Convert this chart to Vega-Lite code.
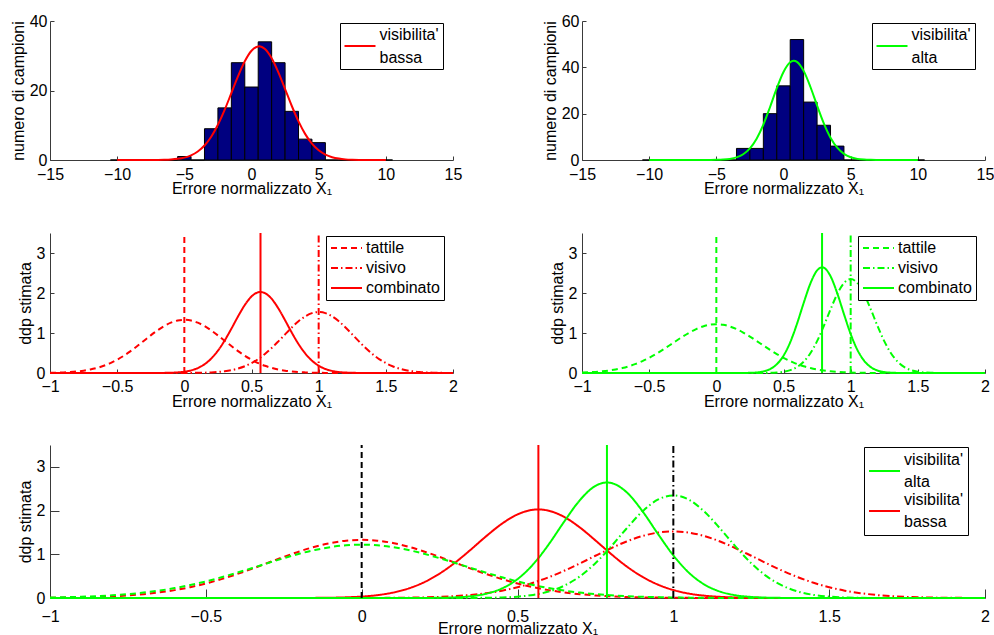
{
"$schema": "https://vega.github.io/schema/vega-lite/v6.json",
"background": "white",
"padding": {"left": 10, "top": 13, "right": 5, "bottom": 5},
"bounds": "flush",
"spacing": 212,
"config": {
  "font": "Liberation Sans",
  "view": {"stroke": null},
  "axis": {"grid": false, "domainColor": "#3a3a3a", "tickColor": "#3a3a3a", "labelFont": "Liberation Sans", "titleFont": "Liberation Sans", "labelFontSize": 16, "titleFontSize": 16, "titleFontWeight": "normal", "labelColor": "#000", "titleColor": "#000", "labelFlush": false, "labelOverlap": false, "tickSize": -4, "labelPadding": 9, "titlePadding": 3},
  "axisX": {"titlePadding": -2, "labelPadding": 10},
  "legend": {"labelFont": "Liberation Sans", "labelFontSize": 16, "labelColor": "#000", "strokeColor": "#000", "fillColor": "#fff", "padding": 4, "symbolType": "stroke", "symbolStrokeWidth": 2, "symbolSize": 961, "labelOffset": 3, "orient": "none"}
},
"resolve": {"scale": {"color": "independent", "strokeDash": "independent"}},
"datasets": {
  "hist_lo": [
    {"x0": -10.5, "x1": -9.5, "n": 0}, {"x0": -9.5, "x1": -8.5, "n": 0}, {"x0": -8.5, "x1": -7.5, "n": 0}, {"x0": -7.5, "x1": -6.5, "n": 0}, {"x0": -6.5, "x1": -5.5, "n": 0},
    {"x0": -5.5, "x1": -4.5, "n": 1}, {"x0": -4.5, "x1": -3.5, "n": 0}, {"x0": -3.5, "x1": -2.5, "n": 9}, {"x0": -2.5, "x1": -1.5, "n": 15}, {"x0": -1.5, "x1": -0.5, "n": 28},
    {"x0": -0.5, "x1": 0.5, "n": 21}, {"x0": 0.5, "x1": 1.5, "n": 34}, {"x0": 1.5, "x1": 2.5, "n": 28}, {"x0": 2.5, "x1": 3.5, "n": 14}, {"x0": 3.5, "x1": 4.5, "n": 6},
    {"x0": 4.5, "x1": 5.5, "n": 5}, {"x0": 5.5, "x1": 6.5, "n": 0}, {"x0": 6.5, "x1": 7.5, "n": 0}, {"x0": 7.5, "x1": 8.5, "n": 0}, {"x0": 8.5, "x1": 9.5, "n": 0}, {"x0": 9.5, "x1": 10.5, "n": 0}
  ],
  "hist_hi": [
    {"x0": -10.5, "x1": -9.5, "n": 0}, {"x0": -9.5, "x1": -8.5, "n": 0}, {"x0": -8.5, "x1": -7.5, "n": 0}, {"x0": -7.5, "x1": -6.5, "n": 0}, {"x0": -6.5, "x1": -5.5, "n": 0},
    {"x0": -5.5, "x1": -4.5, "n": 0}, {"x0": -4.5, "x1": -3.5, "n": 0}, {"x0": -3.5, "x1": -2.5, "n": 5}, {"x0": -2.5, "x1": -1.5, "n": 5}, {"x0": -1.5, "x1": -0.5, "n": 20},
    {"x0": -0.5, "x1": 0.5, "n": 32}, {"x0": 0.5, "x1": 1.5, "n": 52}, {"x0": 1.5, "x1": 2.5, "n": 25}, {"x0": 2.5, "x1": 3.5, "n": 15}, {"x0": 3.5, "x1": 4.5, "n": 6},
    {"x0": 4.5, "x1": 5.5, "n": 0}, {"x0": 5.5, "x1": 6.5, "n": 0}, {"x0": 6.5, "x1": 7.5, "n": 0}, {"x0": 7.5, "x1": 8.5, "n": 0}, {"x0": 8.5, "x1": 9.5, "n": 0}, {"x0": 9.5, "x1": 10.5, "n": 0}
  ],
  "hcurve": [
    {"x": -10, "lo": 0, "hi": 0}, {"x": -9.5, "lo": 0, "hi": 0}, {"x": -9, "lo": 0, "hi": 0}, {"x": -8.5, "lo": 0.001, "hi": 0},
    {"x": -8, "lo": 0.003, "hi": 0}, {"x": -7.5, "lo": 0.01, "hi": 0}, {"x": -7, "lo": 0.026, "hi": 0}, {"x": -6.5, "lo": 0.064, "hi": 0.001},
    {"x": -6, "lo": 0.151, "hi": 0.004}, {"x": -5.5, "lo": 0.332, "hi": 0.017}, {"x": -5, "lo": 0.686, "hi": 0.055}, {"x": -4.5, "lo": 1.333, "hi": 0.166},
    {"x": -4, "lo": 2.43, "hi": 0.452}, {"x": -3.5, "lo": 4.17, "hi": 1.116}, {"x": -3, "lo": 6.71, "hi": 2.49}, {"x": -2.5, "lo": 10.14, "hi": 5.04},
    {"x": -2, "lo": 14.41, "hi": 9.22}, {"x": -1.5, "lo": 19.24, "hi": 15.27}, {"x": -1, "lo": 24.12, "hi": 22.87}, {"x": -0.5, "lo": 28.41, "hi": 31.0},
    {"x": 0, "lo": 31.45, "hi": 38.01}, {"x": 0.5, "lo": 32.69, "hi": 42.18}, {"x": 0.56, "lo": 32.7, "hi": 42.42}, {"x": 0.77, "lo": 32.52, "hi": 42.8},
    {"x": 1, "lo": 31.92, "hi": 42.35}, {"x": 1.5, "lo": 29.28, "hi": 38.47}, {"x": 2, "lo": 25.23, "hi": 31.62}, {"x": 2.5, "lo": 20.43, "hi": 23.52},
    {"x": 3, "lo": 15.54, "hi": 15.83}, {"x": 3.5, "lo": 11.1, "hi": 9.64}, {"x": 4, "lo": 7.45, "hi": 5.31}, {"x": 4.5, "lo": 4.7, "hi": 2.65},
    {"x": 5, "lo": 2.78, "hi": 1.19}, {"x": 5.5, "lo": 1.55, "hi": 0.49}, {"x": 6, "lo": 0.81, "hi": 0.18}, {"x": 6.5, "lo": 0.4, "hi": 0.06},
    {"x": 7, "lo": 0.18, "hi": 0.02}, {"x": 7.5, "lo": 0.08, "hi": 0.005}, {"x": 8, "lo": 0.03, "hi": 0.001}, {"x": 8.5, "lo": 0.01, "hi": 0},
    {"x": 9, "lo": 0, "hi": 0}, {"x": 9.5, "lo": 0, "hi": 0}, {"x": 10, "lo": 0, "hi": 0}
  ],
  "dens_lo": [
    {"x": -1, "tattile": 0.0051, "visivo": 0, "combinato": 0}, {"x": -0.95, "tattile": 0.0088, "visivo": 0, "combinato": 0},
    {"x": -0.9, "tattile": 0.0148, "visivo": 0, "combinato": 0}, {"x": -0.85, "tattile": 0.024, "visivo": 0, "combinato": 0},
    {"x": -0.8, "tattile": 0.038, "visivo": 0, "combinato": 0}, {"x": -0.75, "tattile": 0.0584, "visivo": 0, "combinato": 0},
    {"x": -0.7, "tattile": 0.0874, "visivo": 0, "combinato": 0}, {"x": -0.65, "tattile": 0.127, "visivo": 0, "combinato": 0},
    {"x": -0.6, "tattile": 0.18, "visivo": 0, "combinato": 0}, {"x": -0.55, "tattile": 0.248, "visivo": 0, "combinato": 0},
    {"x": -0.5, "tattile": 0.332, "visivo": 0, "combinato": 0}, {"x": -0.45, "tattile": 0.432, "visivo": 0, "combinato": 0},
    {"x": -0.4, "tattile": 0.547, "visivo": 0, "combinato": 0}, {"x": -0.35, "tattile": 0.673, "visivo": 0, "combinato": 0},
    {"x": -0.3, "tattile": 0.807, "visivo": 0, "combinato": 0.0001}, {"x": -0.25, "tattile": 0.94, "visivo": 0, "combinato": 0.0004},
    {"x": -0.2, "tattile": 1.065, "visivo": 0, "combinato": 0.0011}, {"x": -0.15, "tattile": 1.174, "visivo": 0.0001, "combinato": 0.0028},
    {"x": -0.1, "tattile": 1.258, "visivo": 0.0002, "combinato": 0.0067}, {"x": -0.05, "tattile": 1.312, "visivo": 0.0005, "combinato": 0.0153},
    {"x": 0, "tattile": 1.33, "visivo": 0.001, "combinato": 0.0327}, {"x": 0.05, "tattile": 1.312, "visivo": 0.0021, "combinato": 0.0655},
    {"x": 0.1, "tattile": 1.258, "visivo": 0.0042, "combinato": 0.123}, {"x": 0.15, "tattile": 1.174, "visivo": 0.0079, "combinato": 0.217},
    {"x": 0.2, "tattile": 1.065, "visivo": 0.0144, "combinato": 0.359}, {"x": 0.25, "tattile": 0.94, "visivo": 0.0253, "combinato": 0.558},
    {"x": 0.3, "tattile": 0.807, "visivo": 0.0429, "combinato": 0.811}, {"x": 0.35, "tattile": 0.673, "visivo": 0.0702, "combinato": 1.106},
    {"x": 0.4, "tattile": 0.547, "visivo": 0.111, "combinato": 1.416}, {"x": 0.45, "tattile": 0.432, "visivo": 0.168, "combinato": 1.699},
    {"x": 0.5, "tattile": 0.332, "visivo": 0.247, "combinato": 1.912}, {"x": 0.55, "tattile": 0.248, "visivo": 0.348, "combinato": 2.018},
    {"x": 0.567, "tattile": 0.223, "visivo": 0.389, "combinato": 2.025}, {"x": 0.6, "tattile": 0.18, "visivo": 0.475, "combinato": 1.997},
    {"x": 0.65, "tattile": 0.127, "visivo": 0.624, "combinato": 1.854}, {"x": 0.7, "tattile": 0.0874, "visivo": 0.791, "combinato": 1.614},
    {"x": 0.75, "tattile": 0.0584, "visivo": 0.966, "combinato": 1.318}, {"x": 0.787, "tattile": 0.0426, "visivo": 1.094, "combinato": 1.088},
    {"x": 0.8, "tattile": 0.038, "visivo": 1.138, "combinato": 1.009}, {"x": 0.85, "tattile": 0.024, "visivo": 1.293, "combinato": 0.724},
    {"x": 0.9, "tattile": 0.0148, "visivo": 1.416, "combinato": 0.488}, {"x": 0.95, "tattile": 0.0088, "visivo": 1.496, "combinato": 0.308},
    {"x": 1, "tattile": 0.0051, "visivo": 1.523, "combinato": 0.182}, {"x": 1.05, "tattile": 0.0029, "visivo": 1.496, "combinato": 0.101},
    {"x": 1.1, "tattile": 0.0016, "visivo": 1.416, "combinato": 0.0528}, {"x": 1.15, "tattile": 0.0009, "visivo": 1.293, "combinato": 0.0258},
    {"x": 1.2, "tattile": 0.0004, "visivo": 1.138, "combinato": 0.0118}, {"x": 1.25, "tattile": 0.0002, "visivo": 0.966, "combinato": 0.0051},
    {"x": 1.3, "tattile": 0.0001, "visivo": 0.791, "combinato": 0.002}, {"x": 1.35, "tattile": 0, "visivo": 0.624, "combinato": 0.0008},
    {"x": 1.4, "tattile": 0, "visivo": 0.475, "combinato": 0.0003}, {"x": 1.45, "tattile": 0, "visivo": 0.348, "combinato": 0.0001},
    {"x": 1.5, "tattile": 0, "visivo": 0.247, "combinato": 0}, {"x": 1.55, "tattile": 0, "visivo": 0.168, "combinato": 0},
    {"x": 1.6, "tattile": 0, "visivo": 0.111, "combinato": 0}, {"x": 1.65, "tattile": 0, "visivo": 0.0702, "combinato": 0},
    {"x": 1.7, "tattile": 0, "visivo": 0.0429, "combinato": 0}, {"x": 1.75, "tattile": 0, "visivo": 0.0253, "combinato": 0},
    {"x": 1.8, "tattile": 0, "visivo": 0.0144, "combinato": 0}, {"x": 1.85, "tattile": 0, "visivo": 0.0079, "combinato": 0},
    {"x": 1.9, "tattile": 0, "visivo": 0.0042, "combinato": 0}, {"x": 1.95, "tattile": 0, "visivo": 0.0021, "combinato": 0},
    {"x": 2, "tattile": 0, "visivo": 0.001, "combinato": 0}
  ],
  "dens_hi": [
    {"x": -1, "tattile": 0.0114, "visivo": 0, "combinato": 0}, {"x": -0.95, "tattile": 0.018, "visivo": 0, "combinato": 0},
    {"x": -0.9, "tattile": 0.0277, "visivo": 0, "combinato": 0}, {"x": -0.85, "tattile": 0.0417, "visivo": 0, "combinato": 0},
    {"x": -0.8, "tattile": 0.0613, "visivo": 0, "combinato": 0}, {"x": -0.75, "tattile": 0.0881, "visivo": 0, "combinato": 0},
    {"x": -0.7, "tattile": 0.124, "visivo": 0, "combinato": 0}, {"x": -0.65, "tattile": 0.169, "visivo": 0, "combinato": 0},
    {"x": -0.6, "tattile": 0.227, "visivo": 0, "combinato": 0}, {"x": -0.55, "tattile": 0.297, "visivo": 0, "combinato": 0},
    {"x": -0.5, "tattile": 0.379, "visivo": 0, "combinato": 0}, {"x": -0.45, "tattile": 0.474, "visivo": 0, "combinato": 0},
    {"x": -0.4, "tattile": 0.578, "visivo": 0, "combinato": 0}, {"x": -0.35, "tattile": 0.688, "visivo": 0, "combinato": 0},
    {"x": -0.3, "tattile": 0.801, "visivo": 0, "combinato": 0}, {"x": -0.25, "tattile": 0.911, "visivo": 0, "combinato": 0},
    {"x": -0.2, "tattile": 1.012, "visivo": 0, "combinato": 0}, {"x": -0.15, "tattile": 1.098, "visivo": 0, "combinato": 0},
    {"x": -0.1, "tattile": 1.164, "visivo": 0, "combinato": 0}, {"x": -0.05, "tattile": 1.206, "visivo": 0, "combinato": 0},
    {"x": 0, "tattile": 1.22, "visivo": 0, "combinato": 0}, {"x": 0.05, "tattile": 1.206, "visivo": 0, "combinato": 0},
    {"x": 0.1, "tattile": 1.164, "visivo": 0, "combinato": 0.0001}, {"x": 0.15, "tattile": 1.098, "visivo": 0, "combinato": 0.0004},
    {"x": 0.2, "tattile": 1.012, "visivo": 0, "combinato": 0.0014}, {"x": 0.25, "tattile": 0.911, "visivo": 0.0001, "combinato": 0.0047},
    {"x": 0.3, "tattile": 0.801, "visivo": 0.0005, "combinato": 0.0144}, {"x": 0.35, "tattile": 0.688, "visivo": 0.0016, "combinato": 0.0397},
    {"x": 0.4, "tattile": 0.578, "visivo": 0.0046, "combinato": 0.0983}, {"x": 0.45, "tattile": 0.474, "visivo": 0.0125, "combinato": 0.218},
    {"x": 0.5, "tattile": 0.379, "visivo": 0.0311, "combinato": 0.432}, {"x": 0.55, "tattile": 0.297, "visivo": 0.0707, "combinato": 0.769},
    {"x": 0.567, "tattile": 0.272, "visivo": 0.0916, "combinato": 0.912}, {"x": 0.6, "tattile": 0.227, "visivo": 0.147, "combinato": 1.225},
    {"x": 0.65, "tattile": 0.169, "visivo": 0.282, "combinato": 1.749}, {"x": 0.7, "tattile": 0.124, "visivo": 0.494, "combinato": 2.237},
    {"x": 0.75, "tattile": 0.0881, "visivo": 0.796, "combinato": 2.564}, {"x": 0.787, "tattile": 0.0675, "visivo": 1.07, "combinato": 2.642},
    {"x": 0.8, "tattile": 0.0613, "visivo": 1.175, "combinato": 2.632}, {"x": 0.85, "tattile": 0.0417, "visivo": 1.59, "combinato": 2.421},
    {"x": 0.9, "tattile": 0.0277, "visivo": 1.974, "combinato": 1.995}, {"x": 0.95, "tattile": 0.018, "visivo": 2.248, "combinato": 1.473},
    {"x": 1, "tattile": 0.0114, "visivo": 2.347, "combinato": 0.975}, {"x": 1.05, "tattile": 0.0071, "visivo": 2.248, "combinato": 0.578},
    {"x": 1.1, "tattile": 0.0043, "visivo": 1.974, "combinato": 0.307}, {"x": 1.15, "tattile": 0.0025, "visivo": 1.59, "combinato": 0.146},
    {"x": 1.2, "tattile": 0.0015, "visivo": 1.175, "combinato": 0.0622}, {"x": 1.25, "tattile": 0.0008, "visivo": 0.796, "combinato": 0.0238},
    {"x": 1.3, "tattile": 0.0005, "visivo": 0.494, "combinato": 0.0081}, {"x": 1.35, "tattile": 0.0002, "visivo": 0.282, "combinato": 0.0025},
    {"x": 1.4, "tattile": 0.0001, "visivo": 0.147, "combinato": 0.0007}, {"x": 1.45, "tattile": 0, "visivo": 0.0707, "combinato": 0.0002},
    {"x": 1.5, "tattile": 0, "visivo": 0.0311, "combinato": 0}, {"x": 1.55, "tattile": 0, "visivo": 0.0125, "combinato": 0},
    {"x": 1.6, "tattile": 0, "visivo": 0.0046, "combinato": 0}, {"x": 1.65, "tattile": 0, "visivo": 0.0016, "combinato": 0},
    {"x": 1.7, "tattile": 0, "visivo": 0.0005, "combinato": 0}, {"x": 1.75, "tattile": 0, "visivo": 0.0001, "combinato": 0},
    {"x": 1.8, "tattile": 0, "visivo": 0, "combinato": 0}, {"x": 1.85, "tattile": 0, "visivo": 0, "combinato": 0},
    {"x": 1.9, "tattile": 0, "visivo": 0, "combinato": 0}, {"x": 1.95, "tattile": 0, "visivo": 0, "combinato": 0},
    {"x": 2, "tattile": 0, "visivo": 0, "combinato": 0}
  ],
  "vlines": [
    {"x": 0, "kind": "tattile", "vis": "visibilita'|\u00a0bassa"},
    {"x": 0.567, "kind": "combinato", "vis": "visibilita'|\u00a0bassa"},
    {"x": 1, "kind": "visivo", "vis": "visibilita'|\u00a0bassa"},
    {"x": 0, "kind": "tattile", "vis": "visibilita'|\u00a0alta"},
    {"x": 0.787, "kind": "combinato", "vis": "visibilita'|\u00a0alta"},
    {"x": 1, "kind": "visivo", "vis": "visibilita'|\u00a0alta"}
  ]
},
"vconcat": [
  {
    "bounds": "flush",
    "spacing": 129,
    "resolve": {"scale": {"color": "independent", "strokeDash": "independent"}},
    "hconcat": [
      {
        "width": 403, "height": 139,
        "layer": [
          {
            "data": {"name": "hist_lo"},
            "mark": {"type": "rect", "fill": "#000080", "stroke": "#000000", "strokeWidth": 1},
            "encoding": {
              "x": {"field": "x0", "type": "quantitative", "scale": {"domain": [-15, 15], "nice": false}, "axis": {"title": "Errore normalizzato X₁", "values": [-15, -10, -5, 0, 5, 10, 15]}},
              "x2": {"field": "x1"},
              "y": {"field": "n", "type": "quantitative", "scale": {"domain": [0, 40], "nice": false}, "axis": {"title": "numero di campioni", "values": [0, 10, 20, 30, 40], "labelPadding": 7}},
              "y2": {"datum": 0}
            }
          },
          {
            "data": {"name": "hcurve"},
            "mark": {"type": "line", "strokeWidth": 2, "interpolate": "monotone"},
            "encoding": {
              "x": {"field": "x", "type": "quantitative", "axis": {"title": "Errore normalizzato X₁"}},
              "y": {"field": "lo", "type": "quantitative", "axis": {"title": "numero di campioni"}},
              "color": {"datum": "visibilita'|\u00a0bassa", "type": "nominal", "scale": {"range": ["#ff0000"]}, "legend": {"title": null, "legendX": 290, "legendY": 2, "padding": 3.5, "clipHeight": 39, "labelExpr": "split(datum.label, '|')", "encode": {"labels": {"update": {"dy": {"value": -11.5}, "lineHeight": {"value": 23}}}}}}
            }
          }
        ]
      },
      {
        "width": 403, "height": 139,
        "layer": [
          {
            "data": {"name": "hist_hi"},
            "mark": {"type": "rect", "fill": "#000080", "stroke": "#000000", "strokeWidth": 1},
            "encoding": {
              "x": {"field": "x0", "type": "quantitative", "scale": {"domain": [-15, 15], "nice": false}, "axis": {"title": "Errore normalizzato X₁", "values": [-15, -10, -5, 0, 5, 10, 15]}},
              "x2": {"field": "x1"},
              "y": {"field": "n", "type": "quantitative", "scale": {"domain": [0, 60], "nice": false}, "axis": {"title": "numero di campioni", "values": [0, 20, 40, 60], "labelPadding": 7}},
              "y2": {"datum": 0}
            }
          },
          {
            "data": {"name": "hcurve"},
            "mark": {"type": "line", "strokeWidth": 2, "interpolate": "monotone"},
            "encoding": {
              "x": {"field": "x", "type": "quantitative", "axis": {"title": "Errore normalizzato X₁"}},
              "y": {"field": "hi", "type": "quantitative", "axis": {"title": "numero di campioni"}},
              "color": {"datum": "visibilita'|\u00a0alta", "type": "nominal", "scale": {"range": ["#00ff00"]}, "legend": {"title": null, "legendX": 290, "legendY": 2, "padding": 3.5, "clipHeight": 39, "labelExpr": "split(datum.label, '|')", "encode": {"labels": {"update": {"dy": {"value": -11.5}, "lineHeight": {"value": 23}}}}}}
            }
          }
        ]
      }
    ]
  },
  {
    "bounds": "flush",
    "spacing": 129,
    "resolve": {"scale": {"color": "independent", "strokeDash": "independent"}},
    "hconcat": [
      {
        "width": 403, "height": 140,
        "layer": [
          {
            "data": {"name": "dens_lo"},
            "transform": [{"fold": ["tattile", "visivo", "combinato"], "as": ["kind", "val"]}],
            "mark": {"type": "line", "strokeWidth": 2, "interpolate": "monotone", "color": "#ff0000"},
            "encoding": {
              "x": {"field": "x", "type": "quantitative", "scale": {"domain": [-1, 2], "nice": false}, "axis": {"title": "Errore normalizzato X₁", "values": [-1, -0.5, 0, 0.5, 1, 1.5, 2], "format": "~f", "titlePadding": -1, "labelPadding": 9}},
              "y": {"field": "val", "type": "quantitative", "scale": {"domain": [0, 3.5], "nice": false}, "axis": {"title": "ddp stimata", "values": [0, 1, 2, 3]}},
              "strokeDash": {"field": "kind", "type": "nominal", "scale": {"domain": ["tattile", "visivo", "combinato"], "range": [[6, 4], [7, 3, 1.5, 3], [1, 0]]}, "legend": {"title": null, "legendX": 276, "legendY": 3, "symbolStrokeColor": "#ff0000", "clipHeight": 16, "rowPadding": 4}}
            }
          },
          {
            "data": {"name": "vlines"},
            "transform": [{"filter": {"field": "vis", "equal": "visibilita'|\u00a0bassa"}}],
            "mark": {"type": "rule", "strokeWidth": 2, "color": "#ff0000"},
            "encoding": {
              "x": {"field": "x", "type": "quantitative"},
              "y": {"datum": 0},
              "y2": {"datum": 3.5},
              "strokeDash": {"field": "kind", "type": "nominal"}
            }
          }
        ]
      },
      {
        "width": 403, "height": 140,
        "layer": [
          {
            "data": {"name": "dens_hi"},
            "transform": [{"fold": ["tattile", "visivo", "combinato"], "as": ["kind", "val"]}],
            "mark": {"type": "line", "strokeWidth": 2, "interpolate": "monotone", "color": "#00ff00"},
            "encoding": {
              "x": {"field": "x", "type": "quantitative", "scale": {"domain": [-1, 2], "nice": false}, "axis": {"title": "Errore normalizzato X₁", "values": [-1, -0.5, 0, 0.5, 1, 1.5, 2], "format": "~f", "titlePadding": -1, "labelPadding": 9}},
              "y": {"field": "val", "type": "quantitative", "scale": {"domain": [0, 3.5], "nice": false}, "axis": {"title": "ddp stimata", "values": [0, 1, 2, 3]}},
              "strokeDash": {"field": "kind", "type": "nominal", "scale": {"domain": ["tattile", "visivo", "combinato"], "range": [[6, 4], [7, 3, 1.5, 3], [1, 0]]}, "legend": {"title": null, "legendX": 276, "legendY": 3, "symbolStrokeColor": "#00ff00", "clipHeight": 16, "rowPadding": 4}}
            }
          },
          {
            "data": {"name": "vlines"},
            "transform": [{"filter": {"field": "vis", "equal": "visibilita'|\u00a0alta"}}],
            "mark": {"type": "rule", "strokeWidth": 2, "color": "#00ff00"},
            "encoding": {
              "x": {"field": "x", "type": "quantitative"},
              "y": {"datum": 0},
              "y2": {"datum": 3.5},
              "strokeDash": {"field": "kind", "type": "nominal"}
            }
          }
        ]
      }
    ]
  },
  {
    "width": 935, "height": 153,
    "layer": [
      {
        "data": {"name": "dens_lo"},
        "transform": [{"fold": ["tattile", "visivo", "combinato"], "as": ["kind", "val"]}],
        "mark": {"type": "line", "strokeWidth": 2, "interpolate": "monotone"},
        "encoding": {
          "x": {"field": "x", "type": "quantitative", "scale": {"domain": [-1, 2], "nice": false}, "axis": {"title": "Errore normalizzato X₁", "values": [-1, -0.5, 0, 0.5, 1, 1.5, 2], "format": "~f", "tickSize": -9, "labelPadding": 19, "titlePadding": -4}},
          "y": {"field": "val", "type": "quantitative", "scale": {"domain": [0, 3.5], "nice": false}, "axis": {"title": "ddp stimata", "values": [0, 1, 2, 3], "tickSize": -9, "labelPadding": 14}},
          "strokeDash": {"field": "kind", "type": "nominal", "scale": {"domain": ["tattile", "visivo", "combinato"], "range": [[6, 4], [7, 3, 1.5, 3], [1, 0]]}, "legend": null},
          "color": {"datum": "visibilita'|\u00a0bassa", "type": "nominal", "title": null, "scale": {"domain": ["visibilita'|\u00a0alta", "visibilita'|\u00a0bassa"], "range": ["#00ff00", "#ff0000"]}, "legend": {"title": null, "legendX": 814, "legendY": 2, "clipHeight": 40, "rowPadding": 0, "labelExpr": "split(datum.label, '|')", "encode": {"labels": {"update": {"dy": {"value": -11}, "lineHeight": {"value": 22}}}}}}
        }
      },
      {
        "data": {"name": "dens_hi"},
        "transform": [{"fold": ["tattile", "visivo", "combinato"], "as": ["kind", "val"]}],
        "mark": {"type": "line", "strokeWidth": 2, "interpolate": "monotone"},
        "encoding": {
          "x": {"field": "x", "type": "quantitative"},
          "y": {"field": "val", "type": "quantitative"},
          "strokeDash": {"field": "kind", "type": "nominal", "legend": null},
          "color": {"datum": "visibilita'|\u00a0alta", "type": "nominal", "title": null}
        }
      },
      {
        "data": {"name": "vlines"},
        "transform": [{"filter": {"field": "vis", "equal": "visibilita'|\u00a0bassa"}}, {"filter": {"field": "kind", "oneOf": ["tattile", "visivo"]}}],
        "mark": {"type": "rule", "strokeWidth": 2, "color": "#000000"},
        "encoding": {
          "x": {"field": "x", "type": "quantitative"},
          "y": {"datum": 0},
          "y2": {"datum": 3.5},
          "strokeDash": {"field": "kind", "type": "nominal", "legend": null}
        }
      },
      {
        "data": {"name": "vlines"},
        "transform": [{"filter": {"field": "kind", "equal": "combinato"}}],
        "mark": {"type": "rule", "strokeWidth": 2},
        "encoding": {
          "x": {"field": "x", "type": "quantitative"},
          "y": {"datum": 0},
          "y2": {"datum": 3.5},
          "color": {"field": "vis", "type": "nominal", "title": null}
        }
      }
    ]
  }
]
}
